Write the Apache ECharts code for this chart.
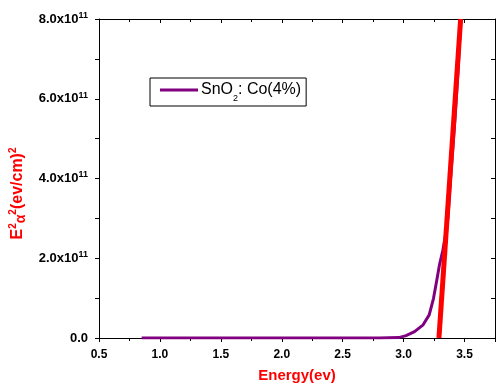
<!DOCTYPE html>
<html>
<head>
<meta charset="utf-8">
<script src="https://cdn.jsdelivr.net/npm/echarts@6/dist/echarts.min.js"></script>
<style>
    html, body { margin: 0; padding: 0; background: #fff; }
    #chart { width: 504px; height: 391px; }
</style>
</head>
<body>
<div id="chart"></div>
<script>
// measured curve: photon energy (ev) and (E*alpha)^2 values
var energy = [0.85, 1.0, 1.5, 2.0, 2.5, 2.8, 2.96, 3.02, 3.09, 3.16, 3.21, 3.245, 3.27, 3.294, 3.322, 3.345, 3.363, 3.39, 3.421, 3.445, 3.47];
var alphaSq = [0, 0, 0, 0, 0, 0, 0.01e11, 0.06e11, 0.16e11, 0.33e11, 0.58e11, 0.99e11, 1.41e11, 1.83e11, 2.2e11, 2.6e11, 3.0e11, 4.2e11, 5.46e11, 6.6e11, 8.0e11];

// linear fit (band gap extrapolation)
var fitEnergy = [3.29, 3.468];
var fitValues = [0, 8.0e11];

function pairs(xs, ys) {
    var out = [];
    for (var i = 0; i < xs.length; i++) {
        out.push([xs[i], ys[i]]);
    }
    return out;
}

var myChart = echarts.init(document.getElementById('chart'));
var FONT = 'Liberation Sans, Arial, sans-serif';

var option = {
    animation: false,
    textStyle: { fontFamily: FONT },
    grid: { left: 99, top: 19, right: 9, bottom: 53, containLabel: false, outerBoundsMode: 'none' },
    legend: {
        left: 150,
        top: 78,
        padding: [4, 5, 3, 10],
        borderColor: '#000',
        borderWidth: 1,
        itemWidth: 38,
        itemHeight: 3,
        itemGap: 0,
        icon: 'rect',
        data: ['SnO2: Co(4%)'],
        formatter: function () {
            return '{t|SnO}{s|2}{t|: Co(4%)}';
        },
        textStyle: {
            padding: [0, 0, 0, -2],
            rich: {
                t: { fontSize: 16, color: '#000', fontFamily: FONT, lineHeight: 18 },
                s: { fontSize: 9, color: '#000', fontFamily: FONT, verticalAlign: 'bottom', lineHeight: 18, padding: [0, 0, -4, 0] }
            }
        }
    },
    xAxis: [{
        type: 'value',
        min: 0.5,
        max: 3.75,
        interval: 0.5,
        name: 'Energy(ev)',
        nameLocation: 'middle',
        nameGap: 30,
        nameTextStyle: { color: '#ff0000', fontWeight: 'bold', fontSize: 15, fontFamily: FONT },
        axisLine: { lineStyle: { color: '#000', width: 1 } },
        axisTick: { inside: false, length: 4, lineStyle: { color: '#000' } },
        minorTick: { show: true, splitNumber: 2, length: 3, lineStyle: { color: '#000' } },
        splitLine: { show: false },
        axisLabel: {
            margin: 11,
            showMaxLabel: false,
            color: '#000',
            fontWeight: 'bold',
            fontSize: 12,
            fontFamily: FONT,
            formatter: function (v) { return v.toFixed(1); }
        }
    }, {
        type: 'value',
        position: 'top',
        min: 0.5,
        max: 3.75,
        interval: 0.5,
        axisLine: { onZero: false, lineStyle: { color: '#000', width: 1 } },
        axisTick: { inside: true, length: 4, lineStyle: { color: '#000' } },
        minorTick: { show: true, splitNumber: 2, length: 3, lineStyle: { color: '#000' } },
        splitLine: { show: false },
        axisLabel: { show: false }
    }],
    yAxis: [{
        type: 'value',
        min: 0,
        max: 8e11,
        interval: 2e11,
        name: '{t|E}{s|2}{a|α}{s|2}{t|(ev/cm)}{s|2}',
        nameLocation: 'middle',
        nameRotate: 90,
        nameGap: 71,
        nameTextStyle: {
            color: '#ff0000',
            padding: [0, 30, 0, 0],
            rich: {
                t: { fontSize: 16, fontWeight: 'bold', color: '#ff0000', fontFamily: FONT, lineHeight: 20 },
                a: { fontSize: 14, fontWeight: 'bold', color: '#ff0000', fontFamily: FONT, verticalAlign: 'bottom', lineHeight: 20 },
                s: { fontSize: 10, fontWeight: 'bold', color: '#ff0000', fontFamily: FONT, verticalAlign: 'top', lineHeight: 20 }
            }
        },
        axisLine: { show: true, lineStyle: { color: '#000', width: 1 } },
        axisTick: { inside: false, length: 4, lineStyle: { color: '#000' } },
        minorTick: { show: true, splitNumber: 2, length: 4, lineStyle: { color: '#000' } },
        splitLine: { show: false },
        axisLabel: {
            margin: 11,
            formatter: function (v) {
                if (v === 0) return '{n|0.0}';
                return '{n|' + (v / 1e11).toFixed(1) + 'x10}{e|11}';
            },
            rich: {
                n: { fontSize: 13, fontWeight: 'bold', color: '#000', fontFamily: FONT, lineHeight: 16 },
                e: { fontSize: 9, fontWeight: 'bold', color: '#000', fontFamily: FONT, verticalAlign: 'top', lineHeight: 16 }
            }
        }
    }, {
        type: 'value',
        position: 'right',
        min: 0,
        max: 8e11,
        interval: 2e11,
        axisLine: { show: true, onZero: false, lineStyle: { color: '#000', width: 1 } },
        axisTick: { inside: true, length: 4, lineStyle: { color: '#000' } },
        minorTick: { show: true, splitNumber: 2, length: 4, lineStyle: { color: '#000' } },
        splitLine: { show: false },
        axisLabel: { show: false }
    }],
    series: [{
        name: 'SnO2: Co(4%)',
        type: 'line',
        xAxisIndex: 0,
        yAxisIndex: 0,
        data: pairs(energy, alphaSq),
        showSymbol: false,
        clip: true,
        lineStyle: { color: '#800080', width: 3 },
        itemStyle: { color: '#800080' }
    }, {
        name: 'fit',
        type: 'line',
        xAxisIndex: 0,
        yAxisIndex: 0,
        data: pairs(fitEnergy, fitValues),
        showSymbol: false,
        clip: true,
        lineStyle: { color: '#ff0000', width: 5 },
        itemStyle: { color: '#ff0000' }
    }]
};

myChart.setOption(option);
</script>
</body>
</html>
